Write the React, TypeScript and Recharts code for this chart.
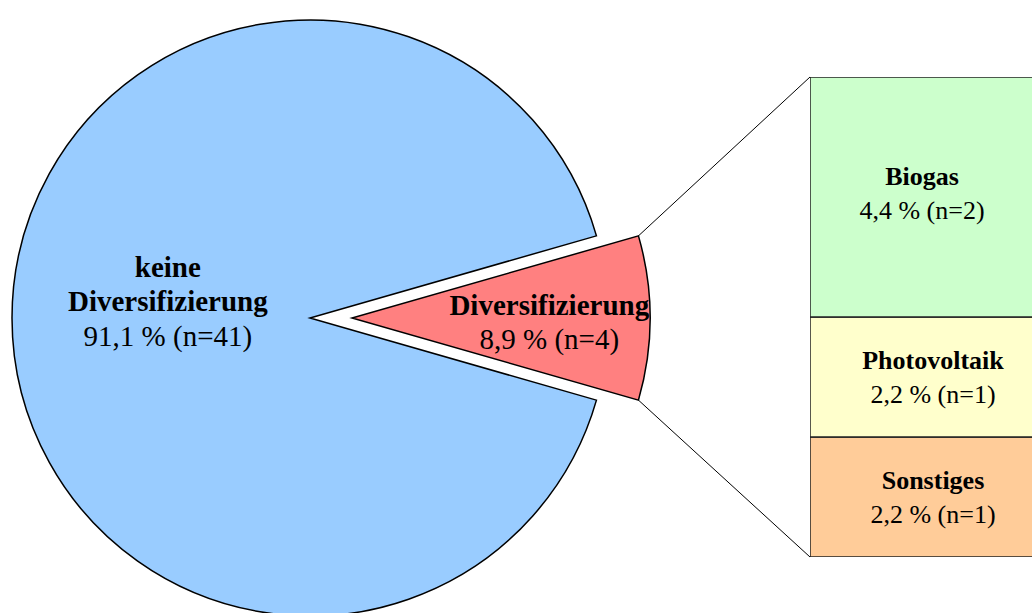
import { PieChart, Pie, Cell, BarChart, Bar, XAxis, YAxis, Customized } from "recharts";

// main pie: diversification share (n=45)
const sliceNames = ["Diversifizierung", "keine Diversifizierung"];
const sliceLines = [["Diversifizierung"], ["keine", "Diversifizierung"]];
const sliceCounts = [4, 41];
const slicePercents = ["8,9", "91,1"];
const sliceColors = ["#FF8080", "#99CCFF"];

// breakdown bar, listed bottom-first (stack order)
const barNames = ["Sonstiges", "Photovoltaik", "Biogas"];
const barCounts = [1, 1, 2];
const barPercents = ["2,2", "2,2", "4,4"];
const barColors = ["#FFCC99", "#FFFFCC", "#CCFFCC"];

const FONT = "'Liberation Serif', 'Times New Roman', serif";

const PIE_CY = 318;
const PIE_R = 298;
const BLUE_CX = 310;
const RED_CX = 352;
const HALF_ANGLE = (360 * sliceCounts[0]) / (sliceCounts[0] + sliceCounts[1]) / 2;

const BAR_LEFT = 810;
const BAR_TOP = 77;
const BAR_W = 224;
const BAR_H = 480;
// the source nudges its box labels a little
const BAR_LABEL_SHIFT = [
  { dx: 11, dy: 0 },
  { dx: 11, dy: 0 },
  { dx: 0, dy: -4 },
];

const pieData = sliceNames.map((name, i) => ({ name, value: sliceCounts[i] }));
const barRow = barNames.reduce<Record<string, number | string>>(
  (acc, n, i) => ({ ...acc, [n]: barCounts[i] }),
  { name: "Diversifizierung" }
);

const RAD = Math.PI / 180;

const makePieLabel = (showIndex: number, radiusFrac: number, dy: number) => (props: any) => {
  const { cx, cy, midAngle, outerRadius, index } = props;
  if (index !== showIndex) return null;
  const r = outerRadius * radiusFrac;
  const x = cx + r * Math.cos(-midAngle * RAD);
  const y = cy + r * Math.sin(-midAngle * RAD) + dy;
  const lines = sliceLines[index];
  const all = [...lines, `${slicePercents[index]} % (n=${sliceCounts[index]})`];
  const step = 34.5;
  const top = y - ((all.length - 1) * step) / 2;
  return (
    <g>
      {all.map((t, i) => (
        <text
          key={i}
          x={x}
          y={top + i * step}
          textAnchor="middle"
          dominantBaseline="central"
          fontFamily={FONT}
          fontSize={29}
          fontWeight={i < lines.length ? "bold" : "normal"}
          fill="#000"
        >
          {t}
        </text>
      ))}
    </g>
  );
};

const makeBarLabel = (i: number) => (props: any) => {
  const { x, y, width, height } = props;
  const mx = x + width / 2 + BAR_LABEL_SHIFT[i].dx;
  const my = y + height / 2 + BAR_LABEL_SHIFT[i].dy;
  return (
    <g>
      <text x={mx} y={my - 17} textAnchor="middle" dominantBaseline="central" fontFamily={FONT} fontSize={26} fontWeight="bold" fill="#000">
        {barNames[i]}
      </text>
      <text x={mx} y={my + 17} textAnchor="middle" dominantBaseline="central" fontFamily={FONT} fontSize={26} fill="#000">
        {`${barPercents[i]} % (n=${barCounts[i]})`}
      </text>
    </g>
  );
};

const Connectors = () => {
  const ex = RED_CX + PIE_R * Math.cos(HALF_ANGLE * RAD);
  const ey = PIE_R * Math.sin(HALF_ANGLE * RAD);
  return (
    <g>
      <line x1={ex} y1={PIE_CY - ey} x2={BAR_LEFT} y2={BAR_TOP} stroke="#000" strokeWidth={1} />
      <line x1={ex} y1={PIE_CY + ey} x2={BAR_LEFT} y2={BAR_TOP + BAR_H} stroke="#000" strokeWidth={1} />
    </g>
  );
};

export default function App() {
  return (
    <div
      style={{
        position: "absolute",
        left: 0,
        top: 0,
        width: 1032,
        height: 613,
        overflow: "hidden",
        background: "#fff",
      }}
    >
      <div style={{ position: "absolute", left: 0, top: 0 }}>
        <PieChart width={1032} height={650} margin={{ top: 0, right: 0, bottom: 0, left: 0 }}>
          {/* big slice */}
          <Pie
            data={pieData}
            dataKey="value"
            cx={BLUE_CX}
            cy={PIE_CY}
            outerRadius={PIE_R}
            startAngle={-HALF_ANGLE}
            endAngle={360 - HALF_ANGLE}
            labelLine={false}
            label={makePieLabel(1, 0.477, -17)}
            isAnimationActive={false}
          >
            {pieData.map((d, i) => (
              <Cell
                key={d.name}
                fill={i === 1 ? sliceColors[i] : "none"}
                stroke={i === 1 ? "#000" : "none"}
                strokeWidth={1.5}
              />
            ))}
          </Pie>
          {/* exploded slice */}
          <Pie
            data={pieData}
            dataKey="value"
            cx={RED_CX}
            cy={PIE_CY}
            outerRadius={PIE_R}
            startAngle={-HALF_ANGLE}
            endAngle={360 - HALF_ANGLE}
            labelLine={false}
            label={makePieLabel(0, 0.662, 4)}
            isAnimationActive={false}
          >
            {pieData.map((d, i) => (
              <Cell
                key={d.name}
                fill={i === 0 ? sliceColors[i] : "none"}
                stroke={i === 0 ? "#000" : "none"}
                strokeWidth={1.5}
              />
            ))}
          </Pie>
          <Customized component={Connectors} />
        </PieChart>
      </div>
      <div style={{ position: "absolute", left: BAR_LEFT, top: BAR_TOP }}>
        <BarChart
          width={BAR_W}
          height={BAR_H}
          data={[barRow]}
          margin={{ top: 0, right: 0, bottom: 0, left: 0 }}
          barCategoryGap={0}
        >
          <XAxis dataKey="name" hide />
          <YAxis hide domain={[0, 4]} />
          {barNames.map((n, i) => (
            <Bar
              key={n}
              dataKey={n}
              stackId="a"
              fill={barColors[i]}
              stroke="#222"
              strokeWidth={1.5}
              label={makeBarLabel(i)}
              isAnimationActive={false}
            />
          ))}
        </BarChart>
      </div>
    </div>
  );
}
